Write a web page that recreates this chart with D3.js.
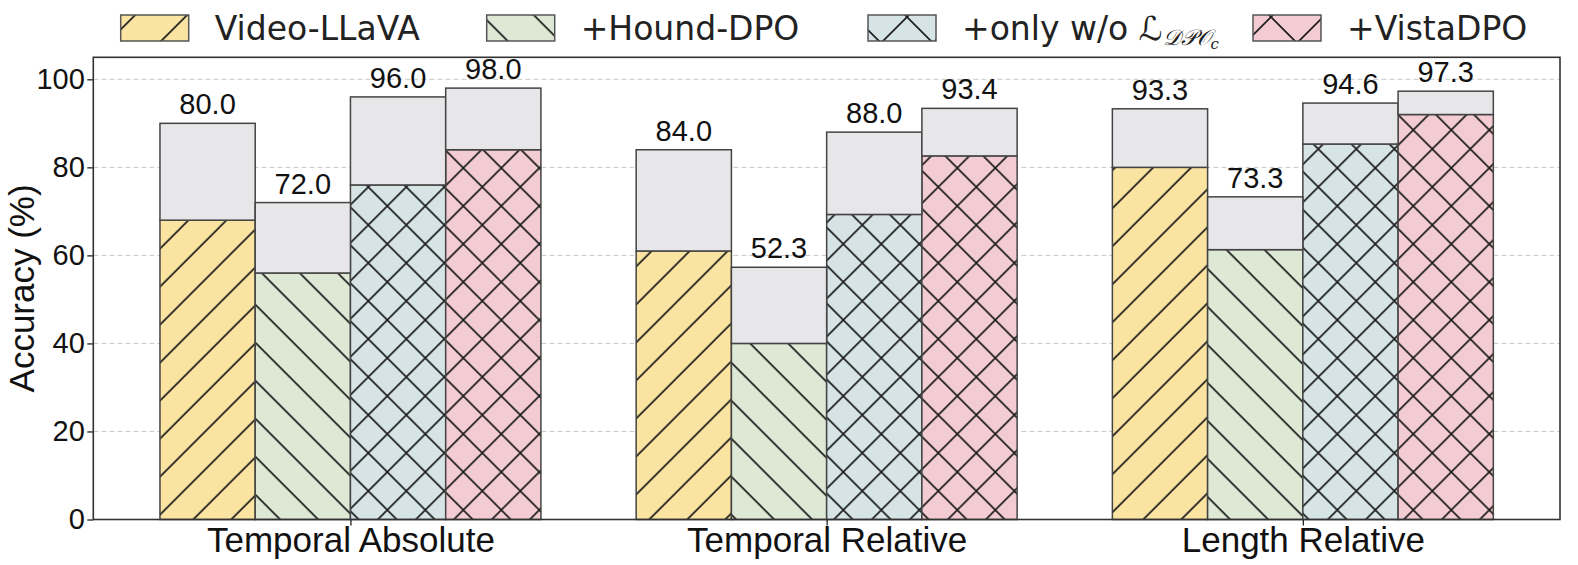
<!DOCTYPE html>
<html>
<head>
<meta charset="utf-8">
<script src="https://cdn.jsdelivr.net/npm/d3@7"></script>
<style>
  html, body { margin: 0; padding: 0; background: #fff; }
  #chart { width: 1578px; height: 565px; }
</style>
</head>
<body>
<div id="chart"></div>
<script>
// Categories / methods
var categories = ["Temporal Absolute", "Temporal Relative", "Length Relative"];
var methods = ["Video-LLaVA", "+Hound-DPO", "+only w/o", "+VistaDPO"];

// Hatched (lower) part of each bar
var baseVideoLlava = [68.0, 61.0, 80.0];
var baseHound = [56.0, 40.0, 61.3];
var baseOnly = [76.0, 69.3, 85.3];
var baseVista = [84.0, 82.6, 92.0];

// Full bar height (grey upper part ends here)
var totalVideoLlava = [90.0, 84.0, 93.3];
var totalHound = [72.0, 57.3, 73.3];
var totalOnly = [96.0, 88.0, 94.6];
var totalVista = [98.0, 93.4, 97.3];

// Printed values above bars
var labelVideoLlava = [80.0, 84.0, 93.3];
var labelHound = [72.0, 52.3, 73.3];
var labelOnly = [96.0, 88.0, 94.6];
var labelVista = [98.0, 93.4, 97.3];

var yTicks = [0, 20, 40, 60, 80, 100];

// styles per method
var methodStyles = [
  { fill: "#FBE3A1", hatch: "fwd" },
  { fill: "#DDE8D5", hatch: "back" },
  { fill: "#D6E4E6", hatch: "cross" },
  { fill: "#F3CCD3", hatch: "cross" }
];

var series = [
  { name: methods[0], base: baseVideoLlava, total: totalVideoLlava, label: labelVideoLlava },
  { name: methods[1], base: baseHound, total: totalHound, label: labelHound },
  { name: methods[2], base: baseOnly, total: totalOnly, label: labelOnly },
  { name: methods[3], base: baseVista, total: totalVista, label: labelVista }
];

var bars = [];
series.forEach(function (s, i) {
  categories.forEach(function (c, j) {
    bars.push({ series: i, cat: j, base: s.base[j], total: s.total[j], label: s.label[j] });
  });
});

var width = 1578, height = 565;
var plot = { left: 93.3, right: 1560, top: 57.3, bottom: 519.5 };
var barW = 0.2;
var numFont = "'Liberation Sans', Arial, Helvetica, sans-serif";
var legFont = "'DejaVu Sans', sans-serif";

var svg = d3.select("#chart").append("svg")
  .attr("width", width).attr("height", height)
  .attr("viewBox", "0 0 " + width + " " + height);

// hatch patterns
var defs = svg.append("defs");
function mod(v, p) { return ((v % p) + p) % p; }
function addPattern(id, kind, fill, P, ox, oy) {
  var pat = defs.append("pattern")
    .attr("id", id)
    .attr("patternUnits", "userSpaceOnUse")
    .attr("width", P).attr("height", P)
    .attr("x", mod(ox, P)).attr("y", mod(oy, P));
  pat.append("rect").attr("width", P).attr("height", P).attr("fill", fill);
  var d = "";
  if (kind === "fwd" || kind === "cross") {
    d += "M-2," + (P + 2) + "L" + (P + 2) + ",-2 M-2,2L2,-2 M" + (P - 2) + "," + (P + 2) + "L" + (P + 2) + "," + (P - 2) + " ";
  }
  if (kind === "back" || kind === "cross") {
    d += "M-2,-2L" + (P + 2) + "," + (P + 2) + " M" + (P - 2) + ",-2L" + (P + 2) + ",2 M-2," + (P - 2) + "L2," + (P + 2);
  }
  pat.append("path").attr("d", d)
    .attr("stroke", "#1e1e1e").attr("stroke-width", 1.7).attr("fill", "none");
}

// bar hatches (period 38px), anchored to match the reference
var P = 38;
var patOffsets = [[28.7, 0], [0, 11.3], [7.3, 16], [7.3, 16]];
methodStyles.forEach(function (st, i) {
  addPattern("hatch-" + i, st.hatch, st.fill, P, patOffsets[i][0], patOffsets[i][1]);
});

// legend hatches (a bit sparser), one line / cross through a given point
var PL = 52;
var legendX = [120.7, 486.7, 868, 1253];
var legendAnchor = [[142.5, 28], [543, 28], [897, 28], [1292, 28]];
methodStyles.forEach(function (st, i) {
  var a = legendAnchor[i][0], b = legendAnchor[i][1];
  var ox, oy;
  if (st.hatch === "fwd") { ox = a + b; oy = 0; }
  else if (st.hatch === "back") { ox = 0; oy = b - a; }
  else { ox = a - PL / 2; oy = b - PL / 2; }
  addPattern("leg-hatch-" + i, st.hatch, st.fill, PL, ox, oy);
});

// scales
var x = d3.scaleLinear().domain([-0.54, 2.54]).range([plot.left, plot.right]);
var y = d3.scaleLinear().domain([0, 105]).range([plot.bottom, plot.top]);

function barX(d) { return x(d.cat + (d.series - 1.5) * barW - barW / 2); }
var bw = x(barW) - x(0);

// grid
svg.append("g").selectAll("line")
  .data(yTicks).join("line")
    .attr("x1", plot.left).attr("x2", plot.right)
    .attr("y1", function (d) { return y(d); }).attr("y2", function (d) { return y(d); })
    .attr("stroke", "#c8c8c8").attr("stroke-width", 1)
    .attr("stroke-dasharray", "5,3");

// lower hatched part
svg.append("g").selectAll("rect")
  .data(bars).join("rect")
    .attr("x", barX)
    .attr("width", bw)
    .attr("y", function (d) { return y(d.base); })
    .attr("height", function (d) { return y(0) - y(d.base); })
    .attr("fill", function (d) { return "url(#hatch-" + d.series + ")"; })
    .attr("stroke", "#444").attr("stroke-width", 1.5);

// upper grey part
svg.append("g").selectAll("rect")
  .data(bars).join("rect")
    .attr("x", barX)
    .attr("width", bw)
    .attr("y", function (d) { return y(d.total); })
    .attr("height", function (d) { return y(d.base) - y(d.total); })
    .attr("fill", "#E7E7EA")
    .attr("stroke", "#444").attr("stroke-width", 1.5);

// value labels
svg.append("g").selectAll("text")
  .data(bars).join("text")
    .attr("x", function (d) { return barX(d) + bw / 2; })
    .attr("y", function (d) { return y(d.total) - 9; })
    .attr("text-anchor", "middle")
    .attr("font-family", numFont).attr("font-size", 29).attr("fill", "#111")
    .text(function (d) { return d.label.toFixed(1); });

// axes
var yAxis = d3.axisLeft(y).tickValues(yTicks).tickSize(6).tickPadding(2.5);
svg.append("g")
  .attr("transform", "translate(" + plot.left + ",0)")
  .call(yAxis)
  .call(function (gg) { gg.select(".domain").remove(); })
  .call(function (gg) { gg.selectAll(".tick line").attr("stroke", "#222").attr("stroke-width", 1.3); })
  .call(function (gg) { gg.selectAll(".tick text").attr("font-family", numFont).attr("font-size", 29).attr("fill", "#111"); });

var xAxis = d3.axisBottom(x).tickValues([0, 1, 2])
  .tickFormat(function (d) { return categories[d]; })
  .tickSize(6).tickPadding(1.5);
svg.append("g")
  .attr("transform", "translate(0," + plot.bottom + ")")
  .call(xAxis)
  .call(function (gg) { gg.select(".domain").remove(); })
  .call(function (gg) { gg.selectAll(".tick line").attr("stroke", "#222").attr("stroke-width", 1.3); })
  .call(function (gg) { gg.selectAll(".tick text").attr("font-family", numFont).attr("font-size", 35).attr("fill", "#111"); });

// frame
svg.append("rect")
  .attr("x", plot.left).attr("y", plot.top)
  .attr("width", plot.right - plot.left).attr("height", plot.bottom - plot.top)
  .attr("fill", "none").attr("stroke", "#333").attr("stroke-width", 1.6);

// y label
svg.append("text")
  .attr("transform", "translate(34," + ((plot.top + plot.bottom) / 2) + ") rotate(-90)")
  .attr("text-anchor", "middle")
  .attr("font-family", numFont).attr("font-size", 35).attr("fill", "#111")
  .text("Accuracy (%)");

// legend
var leg = svg.append("g").selectAll("g")
  .data(series).join("g")
    .attr("transform", function (d, i) { return "translate(" + legendX[i] + ",15)"; });
leg.append("rect")
  .attr("width", 68).attr("height", 26)
  .attr("fill", function (d, i) { return "url(#leg-hatch-" + i + ")"; })
  .attr("stroke", "#555").attr("stroke-width", 1.5);
var legText = leg.append("text")
  .attr("x", 94).attr("y", 25)
  .attr("font-family", legFont).attr("font-size", 33).attr("fill", "#222")
  .text(function (d) { return d.name; });
legText.filter(function (d, i) { return i === 2; })
  .each(function () {
    var t = d3.select(this);
    t.text("+only w/o ");
    t.append("tspan").attr("font-family", "'DejaVu Serif', 'DejaVu Sans', serif")
      .attr("font-style", "italic").text("\u2112");
    t.append("tspan").attr("font-family", "'DejaVu Serif', 'DejaVu Sans', serif")
      .attr("font-style", "italic").attr("font-size", 22).attr("dy", 5).text("\uD835\uDC9F\uD835\uDCAB\uD835\uDCAA");
    t.append("tspan").attr("font-family", "'DejaVu Serif', serif")
      .attr("font-style", "italic").attr("font-size", 15).attr("dy", 4).text("c");
  });
</script>
</body>
</html>
